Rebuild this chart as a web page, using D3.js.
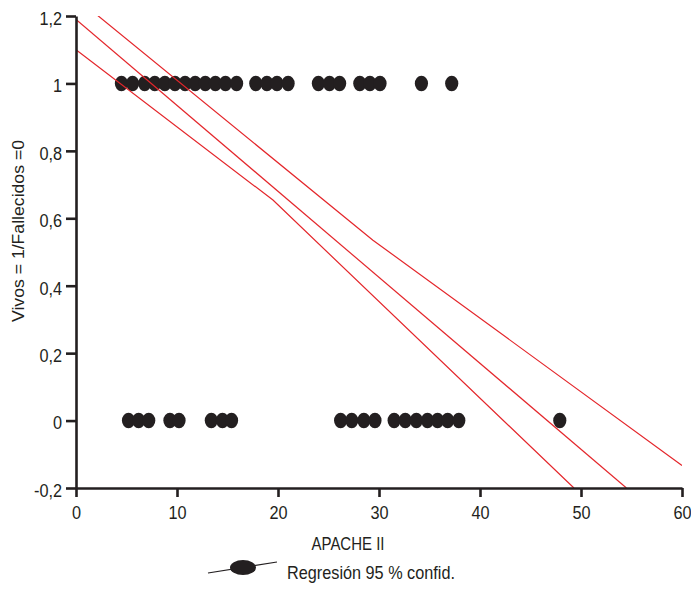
<!DOCTYPE html>
<html>
<head>
<meta charset="utf-8">
<script src="https://cdn.jsdelivr.net/npm/d3@7"></script>
<style>
  html, body { margin: 0; padding: 0; background: #fff; }
  text { font-family: "Liberation Sans", Arial, sans-serif; fill: #231f20; }
</style>
</head>
<body>
<svg id="chart" width="691" height="589"></svg>
<script>
// APACHE II scores of survivors (1) and deceased (0)
const apacheAlive = [4.5, 5.6, 6.8, 7.8, 8.8, 9.8, 10.8, 11.8, 12.8, 13.8, 14.8, 15.9,
                     17.8, 18.9, 19.9, 21.0, 24.0, 25.1, 26.1, 28.1, 29.1, 30.1, 34.2, 37.2];
const apacheDead  = [5.2, 6.2, 7.2, 9.3, 10.2, 13.4, 14.5, 15.4,
                     26.2, 27.3, 28.5, 29.6, 31.5, 32.6, 33.7, 34.8, 35.8, 36.8, 37.9, 47.9];

// Regression line and its 95 % confidence band (x, y)
const regressionLine = [[0, 1.19], [54.5, -0.2]];
const bandUpper = [[0, 1.254], [29.4, 0.535], [60, -0.133]];
const bandLower = [[0, 1.10], [19.5, 0.654], [49.3, -0.2]];

const xTicks = [0, 10, 20, 30, 40, 50, 60];
const yTicks = [-0.2, 0, 0.2, 0.4, 0.6, 0.8, 1, 1.2];
const yTickLabels = ["-0,2", "0", "0,2", "0,4", "0,6", "0,8", "1", "1,2"];

const svg = d3.select("#chart");
const x = d3.scaleLinear().domain([0, 60]).range([76, 682]);
const y = d3.scaleLinear().domain([-0.2, 1.2]).range([488, 16]);

const ink = "#231f20";
const red = "#e4262b";
const narrow = 0.88;   // horizontal squeeze for the condensed lettering

// clip for the regression lines
svg.append("defs").append("clipPath").attr("id", "plot")
  .append("rect").attr("x", x(0)).attr("y", y(1.2))
  .attr("width", x(60) - x(0)).attr("height", y(-0.2) - y(1.2));

// points
const pts = svg.append("g").attr("fill", ink);
pts.selectAll("ellipse.alive").data(apacheAlive).join("ellipse")
  .attr("class", "alive")
  .attr("cx", d => x(d)).attr("cy", y(1)).attr("rx", 6.6).attr("ry", 7.8);
pts.selectAll("ellipse.dead").data(apacheDead).join("ellipse")
  .attr("class", "dead")
  .attr("cx", d => x(d)).attr("cy", y(0)).attr("rx", 6.6).attr("ry", 7.8);

// regression lines
const line = d3.line().x(d => x(d[0])).y(d => y(d[1]));
svg.append("g").attr("clip-path", "url(#plot)")
  .selectAll("path").data([bandUpper, regressionLine, bandLower]).join("path")
  .attr("d", line).attr("fill", "none").attr("stroke", red).attr("stroke-width", 1.2);

// axes
const xAxis = svg.append("g").attr("transform", `translate(0,${y(-0.2)})`)
  .call(d3.axisBottom(x).tickValues(xTicks).tickSize(9).tickSizeOuter(0)
    .tickFormat(d3.format("d")));
const yAxis = svg.append("g").attr("transform", `translate(${x(0)},0)`)
  .call(d3.axisLeft(y).tickValues(yTicks).tickSize(10).tickSizeOuter(0)
    .tickFormat((d, i) => yTickLabels[i]));

[xAxis, yAxis].forEach(g => {
  g.select(".domain").attr("stroke", ink).attr("stroke-width", 2.6);
  g.selectAll(".tick line").attr("stroke", ink).attr("stroke-width", 2.6);
  g.selectAll(".tick text").attr("font-size", 18.5).attr("fill", ink)
    .style("font-family", '"Liberation Sans", Arial, sans-serif');
});
xAxis.selectAll(".tick text")
  .attr("y", 31.5).attr("dy", 0)
  .attr("transform", `scale(${narrow},1)`);
yAxis.selectAll(".tick text")
  .attr("x", -14 / narrow).attr("dy", "0.45em")
  .attr("transform", `scale(${narrow},1)`);

// axis titles
svg.append("text").attr("x", 348).attr("y", 550).attr("text-anchor", "middle")
  .attr("font-size", 18.5).attr("textLength", 73).attr("lengthAdjust", "spacingAndGlyphs")
  .text("APACHE II");
svg.append("text").attr("transform", "translate(23.5,231) rotate(-90)")
  .attr("text-anchor", "middle").attr("font-size", 16.3)
  .attr("textLength", 182).attr("lengthAdjust", "spacingAndGlyphs")
  .text("Vivos  =  1/Fallecidos =0");

// legend
const legend = svg.append("g");
legend.append("line").attr("x1", 208).attr("y1", 573).attr("x2", 277).attr("y2", 562)
  .attr("stroke", ink).attr("stroke-width", 1.2);
legend.append("ellipse").attr("cx", 243).attr("cy", 567.5).attr("rx", 13).attr("ry", 7.5)
  .attr("fill", ink);
legend.append("text").attr("x", 287).attr("y", 579).attr("font-size", 18.5)
  .attr("textLength", 168).attr("lengthAdjust", "spacingAndGlyphs")
  .text("Regresión 95 % confid.");
</script>
</body>
</html>
